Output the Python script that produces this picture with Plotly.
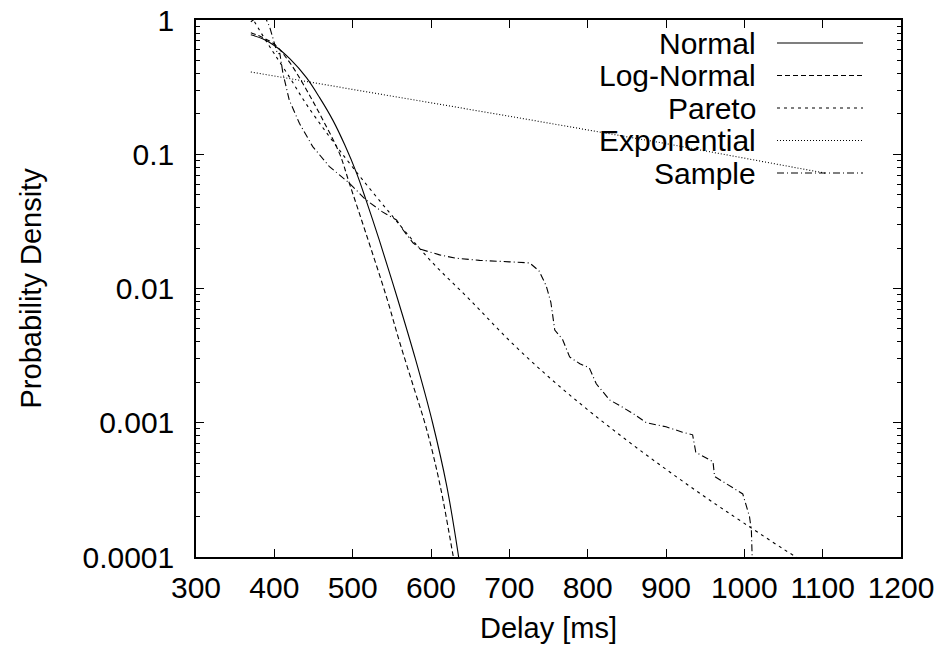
import plotly.graph_objects as go

# ---------------- data ----------------
normal_x = [370, 385, 400, 420, 441, 458, 475, 490, 505, 517, 534, 557, 580, 602, 620, 634, 640]
normal_y = [0.776, 0.724, 0.646, 0.513, 0.372, 0.263, 0.178, 0.117, 0.0724, 0.0457,
            0.0229, 0.0085, 0.0030, 0.00100, 0.00034, 0.000112, 0.000063]

lognormal_x = [370, 385, 400, 420, 441, 462, 483, 496, 517, 543, 560, 577, 594, 611, 628, 635]
lognormal_y = [0.805, 0.741, 0.661, 0.479, 0.302, 0.180, 0.102, 0.0603, 0.0257,
               0.00871, 0.00398, 0.00191, 0.000912, 0.000355, 0.000104, 0.00006]

pareto_x = [370, 380, 390, 400, 420, 440, 470, 500, 550, 600, 650, 700, 750, 800,
            850, 900, 950, 1000, 1066, 1080]
pareto_y = [1.08, 0.86, 0.69, 0.56, 0.37, 0.24, 0.136, 0.080, 0.035, 0.016, 0.0082,
            0.0041, 0.0022, 0.00125, 0.00074, 0.00045, 0.00028, 0.000178, 0.0001, 0.00009]

exponential_x = [370, 500, 700, 900, 1105]
exponential_y = [0.41, 0.305, 0.192, 0.120, 0.072]

sample_x = [370, 377, 385, 390, 394, 400, 404, 407, 411, 419, 432, 449, 470, 496, 517,
            538, 556, 564, 577, 588, 611, 632, 662, 700, 726, 738, 747, 753, 758, 768,
            777, 790, 802, 811, 828, 843, 858, 875, 900, 921, 934, 938, 960, 962, 979,
            998, 1006.6, 1009, 1010, 1011]
sample_y = [0.97, 1.04, 1.08, 1.0, 0.89, 0.67, 0.56, 0.565, 0.40, 0.254, 0.17, 0.114,
            0.0813, 0.0607, 0.0457, 0.0372, 0.0324, 0.0275, 0.0219, 0.0195, 0.0178,
            0.0168, 0.0162, 0.0158, 0.0155, 0.0135, 0.0105, 0.0079, 0.0049, 0.00417,
            0.00309, 0.00275, 0.00257, 0.00195, 0.00148, 0.00132, 0.00117, 0.0010,
            0.000933, 0.000851, 0.000813, 0.000603, 0.000513, 0.000398, 0.000347,
            0.000295, 0.0002, 0.000158, 0.0001, 0.00008]

x_ticks = [300, 400, 500, 600, 700, 800, 900, 1000, 1100, 1200]
y_ticks = [0.0001, 0.001, 0.01, 0.1, 1]
y_tick_labels = ["0.0001", "0.001", "0.01", "0.1", "1"]
y_minor = [k * 10.0 ** e for e in range(-4, 0) for k in range(2, 10)]

series_names = ["Normal", "Log-Normal", "Pareto", "Exponential", "Sample"]
series_dash = ["solid", "5px,3px", "3px,4px", "1px,2px", "7px,3px,1px,3px"]

# ---------------- layout geometry (screen pixels) ----------------
W_FIG, H_FIG = 942, 662
L, R, T, B = 196, 901, 20, 557       # plot area on screen
PW, PH = R - L, B - T
FONT = "Liberation Sans, Arial, Helvetica, sans-serif"
FS = 30


def px_x(px):
    return (px - L) / PW


def px_y(py):
    return (B - py) / PH


fig = go.Figure()
data = [(normal_x, normal_y, "spline"), (lognormal_x, lognormal_y, "spline"),
        (pareto_x, pareto_y, "spline"), (exponential_x, exponential_y, "linear"),
        (sample_x, sample_y, "linear")]
for (xs, ys, shape), name, dash in zip(data, series_names, series_dash):
    fig.add_trace(go.Scatter(x=xs, y=ys, mode="lines", name=name, showlegend=False,
                             line=dict(color="black", width=1.1, dash=dash, shape=shape)))

# manual gnuplot-style key: text right-aligned, sample line on the right
row_y = [43, 75.5, 108, 140.5, 173]
annotations = []
shapes = []
for name, dash, ry in zip(series_names, series_dash, row_y):
    annotations.append(dict(x=px_x(758), y=px_y(ry), xref="paper", yref="paper",
                            text=name, showarrow=False, xanchor="right", yanchor="middle",
                            font=dict(family=FONT, size=FS, color="black")))
    shapes.append(dict(type="line", xref="paper", yref="paper",
                       x0=px_x(777), x1=px_x(863), y0=px_y(ry), y1=px_y(ry),
                       line=dict(color="black", width=1.1, dash=dash)))

annotations.append(dict(x=0.5, y=px_y(628), xref="paper", yref="paper", text="Delay [ms]",
                        showarrow=False, xanchor="center", yanchor="middle",
                        font=dict(family=FONT, size=FS - 1, color="black")))
annotations.append(dict(x=px_x(30), y=0.5, xref="paper", yref="paper",
                        text="Probability Density", textangle=-90, showarrow=False,
                        xanchor="center", yanchor="middle",
                        font=dict(family=FONT, size=FS - 1, color="black")))

fig.update_layout(
    width=W_FIG, height=H_FIG,
    margin=dict(l=L, r=W_FIG - R, t=T, b=H_FIG - B, pad=0, autoexpand=False),
    paper_bgcolor="white", plot_bgcolor="white",
    font=dict(family=FONT, size=FS, color="black"),
    annotations=annotations, shapes=shapes, showlegend=False,
)
fig.update_xaxes(range=[300, 1200], tickvals=x_ticks, ticks="inside", ticklen=8,
                 tickwidth=1.2, tickcolor="black", showgrid=False, zeroline=False,
                 showline=True, linecolor="black", linewidth=1.5, mirror="ticks",
                 automargin=False, ticklabeloverflow="allow",
                 ticklabelstandoff=3, tickfont=dict(family=FONT, size=FS, color="black"))
fig.update_yaxes(type="log", range=[-4, 0], tickmode="array", tickvals=y_ticks,
                 ticktext=y_tick_labels, ticks="inside", ticklen=8, tickwidth=1.2,
                 tickcolor="black", showgrid=False, zeroline=False, showline=True,
                 linecolor="black", linewidth=1.5, mirror="ticks", ticklabelstandoff=14,
                 automargin=False, ticklabeloverflow="allow",
                 tickfont=dict(family=FONT, size=FS, color="black"),
                 minor=dict(tickmode="array", tickvals=y_minor, ticks="inside", ticklen=4,
                            tickwidth=1, tickcolor="black", showgrid=False))

# remove the page's default 8px body margin so the figure fills the window exactly
fig.write_html("out.html",
               config={"displayModeBar": False},
               post_script="document.body.style.margin='0px';"
                           "document.body.style.overflow='hidden';")
